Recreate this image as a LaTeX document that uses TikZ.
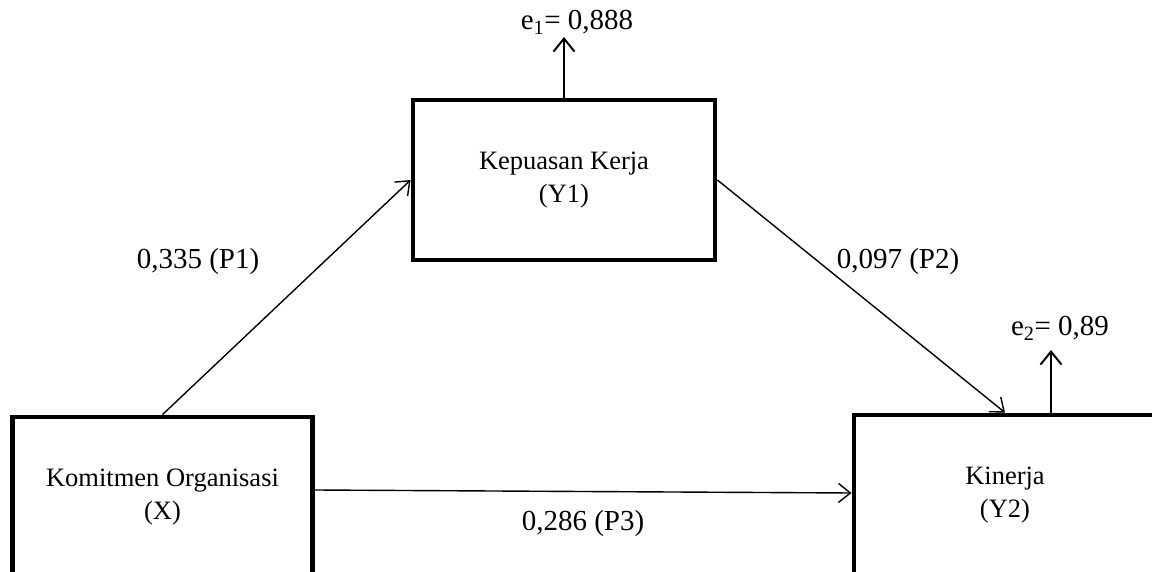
\documentclass[tikz,border=0pt]{standalone}
\usepackage{fontspec}
\setmainfont{Liberation Serif}
\usetikzlibrary{arrows.meta,calc}
\begin{document}
\begin{tikzpicture}[x=1pt,y=-1pt,
  box/.style={draw, line width=4.8pt, minimum width=302pt, minimum height=160pt, inner sep=0pt, align=center, font=\fontsize{26.5}{33}\selectfont},
  lbl/.style={font=\fontsize{29}{34}\selectfont, inner sep=0pt},
  conn/.style={line width=1.4pt, -{Straight Barb[length=12pt,width=19pt]}},
  err/.style={line width=2pt, -{Straight Barb[length=13pt,width=21pt]}}]
\useasboundingbox (0,0) rectangle (1152,572);
\clip (0,0) rectangle (1152,572);
\fill[white] (0,0) rectangle (1152,572);
\node[box] (Y1) at (564,180) {Kepuasan Kerja\\(Y1)};
\node[box, minimum width=300pt] (X) at (162.5,497) {Komitmen Organisasi\\(X)};
\node[box] (Y2) at (1005,495) {Kinerja\\(Y2)};
\coordinate (e1end) at (564,37);
\coordinate (e2end) at (1051,350);
\draw[conn] (X.north) -- (Y1.west);
\draw[conn] (Y1.east) -- (Y2.north);
\draw[conn] ($(X.east)+(0,-7)$) -- ($(Y2.west)+(0,-2)$);
\draw[err] (Y1.north) -- (e1end);
\draw[err] (Y2.north -| e2end) -- (e2end);
\node[lbl] (e1) at (577,22) {e\textsubscript{1}= 0,888};
\node[lbl] (e2) at (1060,328) {e\textsubscript{2}= 0,89};
\node[lbl] (p1) at (198,262) {0,335 (P1)};
\node[lbl] (p2) at (898,262) {0,097 (P2)};
\node[lbl] (p3) at (583,524) {0,286 (P3)};
\end{tikzpicture}
\end{document}
